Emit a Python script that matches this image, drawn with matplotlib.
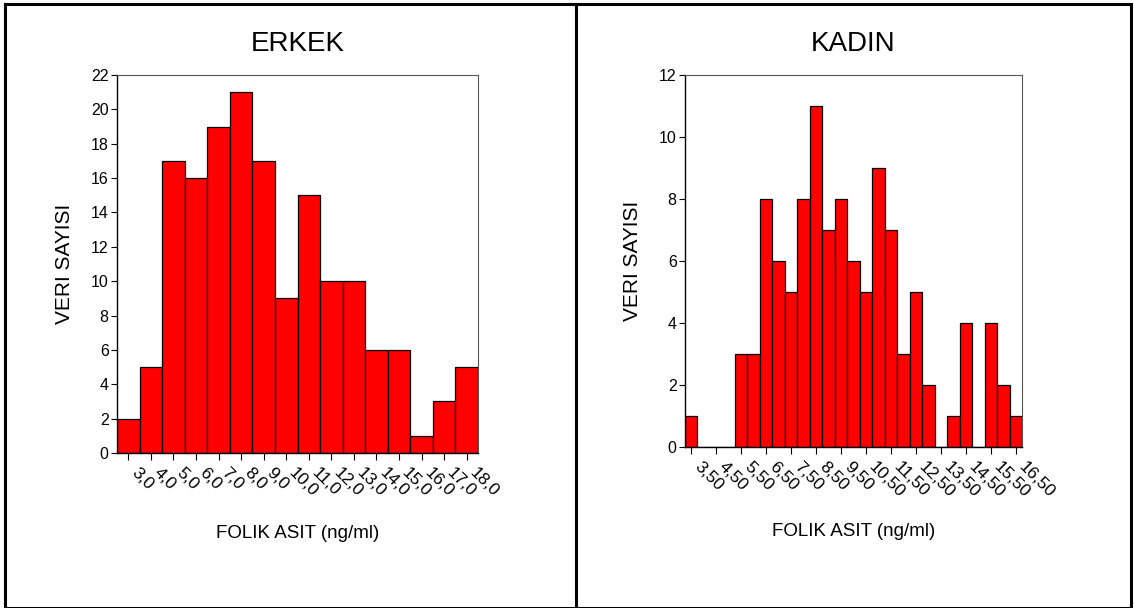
import numpy as np
import matplotlib
matplotlib.use("Agg")
import matplotlib.pyplot as plt
from matplotlib.patches import Rectangle
from matplotlib.lines import Line2D

plt.rcParams['font.family'] = ['Liberation Sans', 'DejaVu Sans']

# ERKEK histogram: bin centres 3..18, width 1
erkek_centers = [3, 4, 5, 6, 7, 8, 9, 10, 11, 12, 13, 14, 15, 16, 17, 18]
erkek_counts = [2, 5, 17, 16, 19, 21, 17, 9, 15, 10, 10, 6, 6, 1, 3, 5]
erkek_ticklabels = ["3,0", "4,0", "5,0", "6,0", "7,0", "8,0", "9,0", "10,0",
                    "11,0", "12,0", "13,0", "14,0", "15,0", "16,0", "17,0", "18,0"]

# KADIN histogram: bin centres 3.5..16.5, width 0.5
kadin_centers = [3.5, 4.0, 4.5, 5.0, 5.5, 6.0, 6.5, 7.0, 7.5, 8.0, 8.5, 9.0, 9.5,
                 10.0, 10.5, 11.0, 11.5, 12.0, 12.5, 13.0, 13.5, 14.0, 14.5,
                 15.0, 15.5, 16.0, 16.5]
kadin_counts = [1, 0, 0, 0, 3, 3, 8, 6, 5, 8, 11, 7, 8, 6, 5, 9, 7, 3, 5, 2,
                0, 1, 4, 0, 4, 2, 1]
kadin_ticks = [3.5, 4.5, 5.5, 6.5, 7.5, 8.5, 9.5, 10.5, 11.5, 12.5, 13.5,
               14.5, 15.5, 16.5]
kadin_ticklabels = ["3,50", "4,50", "5,50", "6,50", "7,50", "8,50", "9,50",
                    "10,50", "11,50", "12,50", "13,50", "14,50", "15,50", "16,50"]

W, H = 1134, 608
fig = plt.figure(figsize=(W / 100, H / 100), dpi=100)


def px_axes(left, top, right, bottom):
    return fig.add_axes([left / W, 1 - bottom / H, (right - left) / W, (bottom - top) / H])


def style(ax, title, ylim, yticks, label_y):
    ax.set_title(title, fontsize=20, pad=17)
    ax.set_ylim(*ylim)
    ax.set_yticks(yticks)
    ax.tick_params(direction='out', length=4, width=0.8, labelsize=11.5, pad=2)
    ax.tick_params(axis='x', length=5, pad=4)
    for s in ['left', 'bottom']:
        ax.spines[s].set_color('black')
        ax.spines[s].set_linewidth(1.0)
    for s in ['top', 'right']:
        ax.spines[s].set_color('#555555')
        ax.spines[s].set_linewidth(0.8)
    ax.set_ylabel("VERI SAYISI", fontsize=15, labelpad=12)
    ax.set_xlabel("FOLIK ASIT (ng/ml)", fontsize=13.5)
    ax.xaxis.set_label_coords(0.5, label_y)
    for lbl in ax.get_xticklabels():
        lbl.set_rotation(-45)
        lbl.set_ha('left')
        lbl.set_va('top')
        lbl.set_fontsize(12.5)


ax1 = px_axes(117, 75, 478, 453)
ax1.bar(erkek_centers, erkek_counts, width=1.0, color='#ff0000',
        edgecolor='black', linewidth=0.9)
ax1.set_xlim(2.5, 18.5)
ax1.set_xticks(erkek_centers)
ax1.set_xticklabels(erkek_ticklabels)
style(ax1, "ERKEK", (0, 22), range(0, 23, 2), -0.19)

ax2 = px_axes(685, 75, 1022, 447)
ax2.bar(kadin_centers, kadin_counts, width=0.5, color='#ff0000',
        edgecolor='black', linewidth=0.9)
ax2.set_xlim(3.25, 16.75)
ax2.set_xticks(kadin_ticks)
ax2.set_xticklabels(kadin_ticklabels)
style(ax2, "KADIN", (0, 12), range(0, 13, 2), -0.205)

# outer frame and divider
fig.add_artist(Rectangle((5 / W, 0), (1131 - 5) / W, 1 - 4 / H, transform=fig.transFigure,
                         fill=False, edgecolor='black', linewidth=2.2))
fig.add_artist(Line2D([576 / W, 576 / W], [0, 1 - 4 / H], transform=fig.transFigure,
                      color='black', linewidth=2.2))

fig.savefig("out.png", dpi=100, facecolor='white')
